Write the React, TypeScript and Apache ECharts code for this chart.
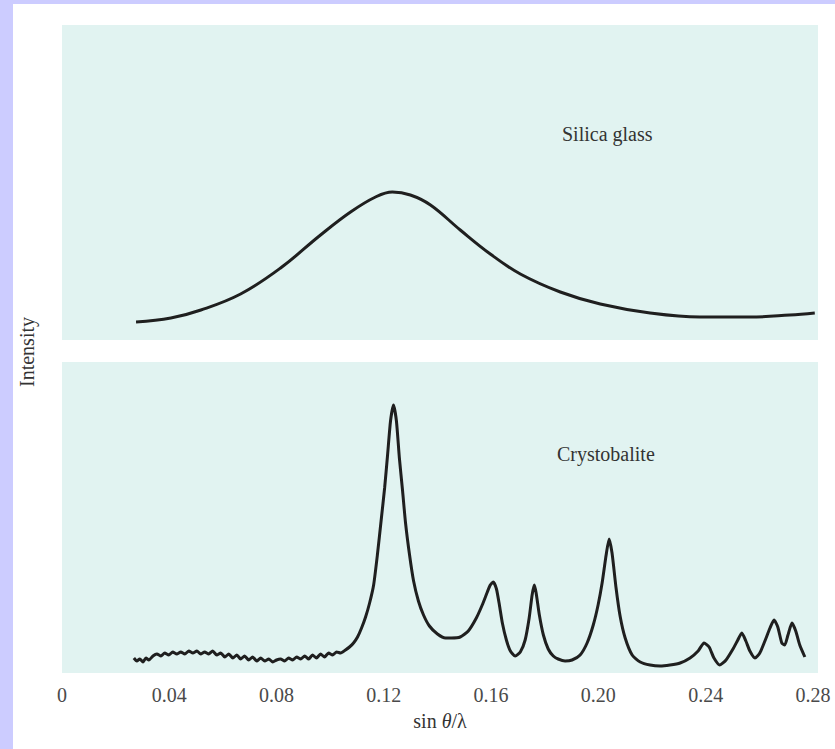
import React, { useEffect, useRef } from "react";
import * as echarts from "echarts";

// x: sin(theta)/lambda ; y: intensity (arbitrary units, panel-relative)
const xTickInterval = 0.04;
const xMin = 0;
const xMax = 0.2819;

const silicaGlass: [number, number][] = [
  [0.0276, 18], [0.0406, 22], [0.0518, 30], [0.0666, 46], [0.0815, 72],
  [0.0964, 105], [0.1076, 128], [0.1169, 143], [0.1232, 148], [0.1299, 145],
  [0.1374, 135], [0.1485, 110], [0.1597, 86], [0.1709, 66], [0.1858, 48],
  [0.2007, 36], [0.2193, 27], [0.2379, 23], [0.2565, 23], [0.2714, 25],
  [0.2807, 27],
];

const crystNoise: [number, number][] = [
  [0.0268, 15], [0.0279, 12], [0.0290, 14], [0.0302, 11], [0.0313, 15],
  [0.0324, 13], [0.0339, 17], [0.0354, 19], [0.0369, 17], [0.0383, 20],
  [0.0398, 18], [0.0413, 21], [0.0428, 19], [0.0443, 21], [0.0458, 19],
  [0.0473, 22], [0.0488, 20], [0.0503, 22], [0.0517, 19], [0.0532, 21],
  [0.0547, 19], [0.0562, 22], [0.0577, 18], [0.0592, 20], [0.0607, 16],
  [0.0622, 19], [0.0637, 15], [0.0652, 18], [0.0666, 14], [0.0681, 17],
  [0.0696, 13], [0.0711, 16], [0.0726, 12], [0.0741, 15], [0.0756, 12],
  [0.0771, 14], [0.0786, 11], [0.0800, 13], [0.0815, 14], [0.0830, 12],
  [0.0845, 15], [0.0860, 13], [0.0875, 16], [0.0890, 14], [0.0905, 17],
  [0.0920, 14], [0.0934, 18], [0.0949, 15], [0.0964, 19], [0.0979, 16],
  [0.0994, 20], [0.1009, 18], [0.1024, 21], [0.1039, 20],
];

const crystMainPeak: [number, number][] = [
  [0.1057, 23], [0.1072, 26], [0.1087, 30], [0.1102, 36], [0.1117, 45],
  [0.1132, 56], [0.1147, 70], [0.1162, 88], [0.1176, 118], [0.1191, 155],
  [0.1203, 185], [0.1214, 218], [0.1225, 252], [0.1236, 268], [0.1247, 252],
  [0.1258, 215], [0.1270, 182], [0.1281, 150], [0.1296, 118], [0.1311, 92],
  [0.1329, 72], [0.1348, 58], [0.1370, 47], [0.1400, 39], [0.1430, 35],
  [0.1452, 35],
];

const crystMidPeaks: [number, number][] = [
  [0.1485, 36], [0.1515, 42], [0.1545, 55], [0.1567, 68], [0.1586, 81],
  [0.1597, 88], [0.1608, 91], [0.1620, 84], [0.1631, 68], [0.1642, 50],
  [0.1657, 33], [0.1672, 22], [0.1690, 17], [0.1709, 21], [0.1727, 33],
  [0.1742, 55], [0.1753, 78], [0.1761, 88], [0.1768, 80], [0.1780, 58],
  [0.1795, 38], [0.1813, 24], [0.1832, 17], [0.1850, 14], [0.1876, 12],
  [0.1902, 13], [0.1932, 18], [0.1958, 30], [0.1981, 48], [0.1999, 68],
  [0.2014, 90], [0.2029, 118], [0.2040, 134], [0.2051, 120], [0.2066, 85],
  [0.2081, 57], [0.2100, 35], [0.2126, 18], [0.2156, 11],
];

const crystTailPeaks: [number, number][] = [
  [0.2193, 8], [0.2230, 7], [0.2267, 8], [0.2305, 10], [0.2342, 15],
  [0.2372, 22], [0.2394, 30], [0.2413, 26], [0.2431, 15], [0.2453, 8],
  [0.2476, 13], [0.2502, 24], [0.2520, 33], [0.2535, 40], [0.2550, 32],
  [0.2565, 22], [0.2584, 15], [0.2602, 20], [0.2621, 32], [0.2640, 45],
  [0.2655, 53], [0.2669, 46], [0.2684, 30], [0.2695, 28], [0.2707, 38],
  [0.2722, 50], [0.2736, 42], [0.2751, 28], [0.2770, 16],
];

const crystobalite: [number, number][] = [
  ...crystNoise,
  ...crystMainPeak,
  ...crystMidPeaks,
  ...crystTailPeaks,
];

const SERIF = "'Liberation Serif', 'DejaVu Serif', serif";
const PANEL = "#e1f3f1";
const INK = "#1f1f1f";

export default function App() {
  const ref = useRef<HTMLDivElement | null>(null);

  useEffect(() => {
    if (!ref.current) return;
    const chart = echarts.init(ref.current, undefined, { renderer: "svg" });
    const fmt = (v: number) => {
      const k = v / xTickInterval;
      if (Math.abs(k - Math.round(k)) > 1e-6) return "";
      return v === 0 ? "0" : v.toFixed(2);
    };
    chart.setOption({
      animation: false,
      backgroundColor: "transparent",
      grid: [
        { left: 62, top: 25, width: 756, height: 315, show: true, backgroundColor: PANEL, borderWidth: 0 },
        { left: 62, top: 362, width: 756, height: 311, show: true, backgroundColor: PANEL, borderWidth: 0 },
      ],
      xAxis: [
        { gridIndex: 0, type: "value", min: xMin, max: xMax, interval: xTickInterval, show: false },
        {
          gridIndex: 1,
          type: "value",
          min: xMin,
          max: xMax,
          interval: xTickInterval,
          axisLine: { show: false },
          axisTick: { show: false },
          splitLine: { show: false },
          axisLabel: { formatter: fmt, fontFamily: SERIF, fontSize: 20, color: "#4a4a4a", margin: 12 },
          name: "sin {it|θ}/λ",
          nameLocation: "middle",
          nameGap: 38,
          nameTextStyle: {
            fontFamily: SERIF,
            fontSize: 20,
            color: "#333",
            rich: { it: { fontFamily: SERIF, fontSize: 20, fontStyle: "italic", color: "#333" } },
          },
        },
      ],
      yAxis: [
        { gridIndex: 0, type: "value", min: 0, max: 315, show: false },
        { gridIndex: 1, type: "value", min: 0, max: 311, show: false },
      ],
      series: [
        {
          name: "Silica glass",
          type: "line",
          xAxisIndex: 0,
          yAxisIndex: 0,
          data: silicaGlass,
          symbol: "none",
          smooth: 0.4,
          lineStyle: { color: INK, width: 3 },
        },
        {
          name: "Crystobalite",
          type: "line",
          xAxisIndex: 1,
          yAxisIndex: 1,
          data: crystobalite,
          symbol: "none",
          smooth: 0.2,
          lineStyle: { color: INK, width: 3 },
        },
      ],
      graphic: [
        {
          type: "text",
          left: 562,
          top: 124,
          style: { text: "Silica glass", fontFamily: SERIF, fontSize: 20, fill: "#333" },
        },
        {
          type: "text",
          left: 557,
          top: 444,
          style: { text: "Crystobalite", fontFamily: SERIF, fontSize: 20, fill: "#333" },
        },
        {
          type: "text",
          x: 27,
          y: 352,
          rotation: Math.PI / 2,
          style: {
            text: "Intensity",
            fontFamily: SERIF,
            fontSize: 20,
            fill: "#333",
            align: "center",
            verticalAlign: "middle",
          },
        },
      ],
    });
    return () => chart.dispose();
  }, []);

  return (
    <div style={{ position: "absolute", left: 0, top: 0, width: 835, height: 749, background: "#ccccff" }}>
      <div style={{ position: "absolute", left: 13, top: 4, right: 0, bottom: 0, background: "#ffffff" }} />
      <div ref={ref} style={{ position: "absolute", left: 0, top: 0, width: 835, height: 749 }} />
    </div>
  );
}
